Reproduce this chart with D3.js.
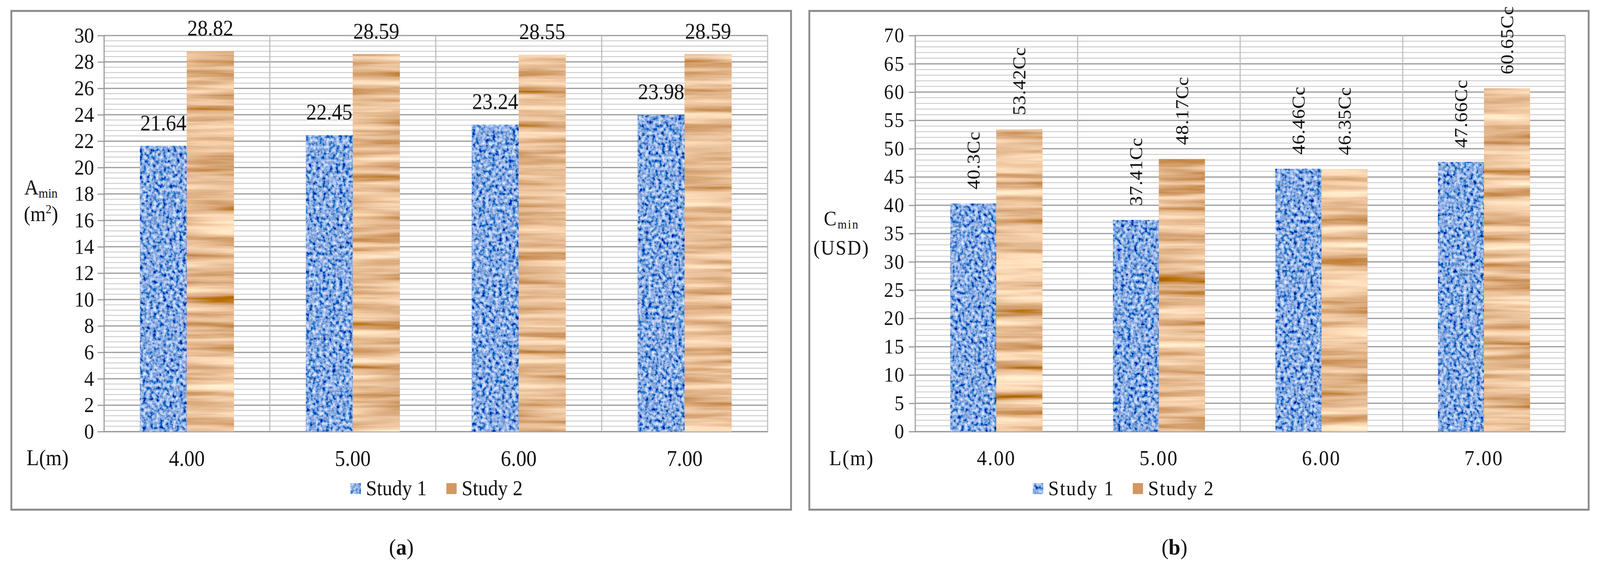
<!DOCTYPE html>
<html><head><meta charset="utf-8">
<script src="https://cdn.jsdelivr.net/npm/d3@7"></script>
<style>html,body{margin:0;padding:0;overflow:hidden;background:#fff}svg{display:block;width:100vw;height:100vh}text{font-family:"Liberation Serif","DejaVu Serif",serif;fill:#111}</style>
</head><body>
<svg id="c" viewBox="0 0 4373 1462" preserveAspectRatio="none"></svg>
<script>
const categories = ["4.00","5.00","6.00","7.00"];
const seriesNames = ["Study 1","Study 2"];
const areaStudy1 = [21.64,22.45,23.24,23.98];
const areaStudy2 = [28.82,28.59,28.55,28.59];
const costStudy1 = [40.3,37.41,46.46,47.66];
const costStudy2 = [53.42,48.17,46.35,60.65];
const areaTicks = d3.range(0,31,2);
const costTicks = d3.range(0,71,5);

const svg = d3.select("#c");
const defs = svg.append("defs");
function tex(id, freq, oct, m){
  const f = defs.append("filter").attr("id",id).attr("x",0).attr("y",0).attr("width",1).attr("height",1);
  f.append("feTurbulence").attr("type","fractalNoise").attr("baseFrequency",freq).attr("numOctaves",oct).attr("seed",3);
  f.append("feColorMatrix").attr("type","matrix").attr("values",m);
  f.append("feComposite").attr("in2","SourceGraphic").attr("operator","in");
}
tex("blueTex","0.11",3,"1.5 0 0 0 -0.5  1.4 0 0 0 -0.3  1.1 0 0 0 0.2  0 0 0 0 1");
tex("woodTex","0.002 0.045",4,"1.0 0 0 0 0.3  1.1 0 0 0 -0.04  1.0 0 0 0 -0.2  0 0 0 0 1");
const fills = ["#5b84c8","#d4975f"], filt = ["url(#blueTex)","url(#woodTex)"];

function panel(o){
  const g = svg.append("g");
  g.append("rect").attr("x",o.bx0).attr("y",28).attr("width",o.bx1-o.bx0).attr("height",1305-28)
    .attr("fill","#fff").attr("stroke","#8a8a8a").attr("stroke-width",5);
  const x = d3.scaleBand().domain(categories).range([o.px0,o.px1]).paddingInner(0).paddingOuter(0);
  const y = d3.scaleLinear().domain([0,o.max]).range([1105,91]);
  const minor = d3.range(0,o.max+1e-9,o.minorStep);
  g.append("g").selectAll("line").data(minor).join("line")
    .attr("x1",o.px0).attr("x2",o.px1).attr("y1",d=>y(d)).attr("y2",d=>y(d))
    .attr("stroke","#c4c4c4").attr("stroke-width",2);
  g.append("g").selectAll("line").data(o.ticks).join("line")
    .attr("x1",o.px0).attr("x2",o.px1).attr("y1",d=>y(d)).attr("y2",d=>y(d))
    .attr("stroke","#9a9a9a").attr("stroke-width",3);
  g.append("g").selectAll("line").data(categories.slice(1).concat(["end"])).join("line")
    .attr("x1",(d,i)=>o.px0+(i+1)*x.bandwidth()).attr("x2",(d,i)=>o.px0+(i+1)*x.bandwidth())
    .attr("y1",91).attr("y2",1105).attr("stroke","#bdbdbd").attr("stroke-width",3);
  const ya = g.append("g").attr("transform",`translate(${o.px0},0)`)
    .call(d3.axisLeft(y).tickValues(o.ticks).tickSize(17).tickPadding(10).tickFormat(d3.format("d")));
  ya.select(".domain").attr("stroke","#9a9a9a").attr("stroke-width",3);
  ya.selectAll(".tick line").attr("stroke","#9a9a9a").attr("stroke-width",3);
  ya.selectAll("text").attr("font-size",o.tickFs).attr("font-family","Liberation Serif").attr("fill","#111")
    .attr("letter-spacing",o.ls);
  const xa = g.append("g").attr("transform","translate(0,1105)")
    .call(d3.axisBottom(x).tickSize(0).tickPadding(48));
  xa.select(".domain").attr("stroke","#9a9a9a").attr("stroke-width",3);
  xa.selectAll("text").attr("font-size",o.tickFs+2).attr("font-family","Liberation Serif").attr("fill","#111")
    .attr("letter-spacing",o.ls);
  const bw = x.bandwidth()*0.283, off = (x.bandwidth()-2*bw)/2;
  [o.s1,o.s2].forEach((vals,si)=>{
    const bg = g.append("g");
    bg.selectAll("rect").data(vals).join("rect")
      .attr("x",(d,i)=>x(categories[i])+off+si*bw).attr("y",d=>y(d))
      .attr("width",bw).attr("height",d=>1105-y(d)).attr("fill",fills[si]);
    bg.selectAll("rect.t").data(vals).join("rect").attr("class","t")
      .attr("x",(d,i)=>x(categories[i])+off+si*bw).attr("y",d=>y(d))
      .attr("width",bw).attr("height",d=>1105-y(d)).attr("fill","#000").attr("filter",filt[si]);
    if(o.rot){
      bg.selectAll("text").data(vals).join("text")
        .attr("transform",(d,i)=>`translate(${x(categories[i])+off+si*bw+bw/2+17},${y(d)-36}) rotate(-90)`)
        .attr("font-size",50).attr("letter-spacing",1).text(d=>d+"Cc");
    } else {
      bg.selectAll("text").data(vals).join("text")
        .attr("x",(d,i)=>x(categories[i])+off+si*bw+bw/2).attr("y",d=>y(d)-40)
        .attr("text-anchor","middle").attr("font-size",56).text(d=>d);
    }
  });
  const t1 = g.append("text").attr("x",o.tx).attr("y",o.ty1).attr("text-anchor","middle").attr("font-size",o.tickFs).attr("letter-spacing",o.ls);
  t1.append("tspan").text(o.t1a); t1.append("tspan").attr("font-size",o.tickFs*0.62).attr("dy",8).text("min");
  g.append("text").attr("x",o.tx).attr("y",o.ty2).attr("text-anchor","middle").attr("font-size",o.tickFs).attr("letter-spacing",o.ls).html(o.t2);
  g.append("text").attr("x",o.lx).attr("y",1174+17).attr("text-anchor","middle").attr("font-size",o.tickFs+2).attr("letter-spacing",o.ls).text("L(m)");
  const lg = g.append("g");
  seriesNames.forEach((n,i)=>{
    lg.append("rect").attr("x",o.lg[i]).attr("y",1237).attr("width",28).attr("height",28).attr("fill",fills[i]);
    if(i===0) lg.append("rect").attr("x",o.lg[i]).attr("y",1237).attr("width",28).attr("height",28).attr("fill","#000").attr("filter",filt[i]);
    lg.append("text").attr("x",o.lg[i]+42).attr("y",1268).attr("font-size",o.tickFs).attr("letter-spacing",o.ls).text(n);
  });
  const cap = g.append("text").attr("x",o.cx).attr("y",1420).attr("text-anchor","middle").attr("font-size",58);
  cap.append("tspan").text("("); cap.append("tspan").attr("font-weight","bold").text(o.cap); cap.append("tspan").text(")");
}
panel({bx0:31,bx1:2162,px0:284,px1:2098,max:30,ticks:areaTicks,minorStep:0.4,s1:areaStudy1,s2:areaStudy2,rot:false,
  tickFs:54,ls:0,tx:112,ty1:498,ty2:566,t1a:"A",t2:"(m<tspan font-size='32' dy='-20'>2</tspan><tspan dy='20'>)</tspan>",lx:130,lg:[958,1220],cx:1097,cap:"a"});
panel({bx0:2212,bx1:4342,px0:2501,px1:4278,max:70,ticks:costTicks,minorStep:1,s1:costStudy1,s2:costStudy2,rot:true,
  tickFs:52,ls:3,tx:2300,ty1:577,ty2:652,t1a:"C",t2:"(USD)",lx:2328,lg:[2823,3096],cx:3210,cap:"b"});
</script></body></html>
